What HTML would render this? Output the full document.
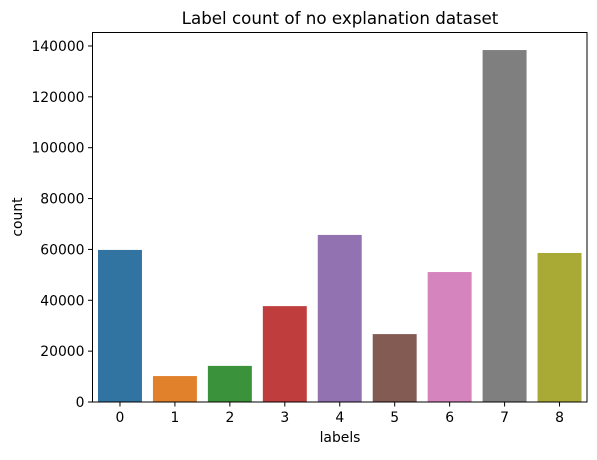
<!DOCTYPE html>
<html><head><meta charset="utf-8"><style>
body{margin:0;background:#fff;}
svg text{font-family:"DejaVu Sans","Liberation Sans",sans-serif;fill:#000;}
</style></head><body>
<svg id="chart" width="597" height="455">
<text x="340" y="24" font-size="16.7" text-anchor="middle">Label count of no explanation dataset</text>
<text x="340" y="442" font-size="13.9" text-anchor="middle">labels</text>
<text transform="translate(22,217) rotate(-90)" font-size="13.9" text-anchor="middle">count</text>
<g id="bars"></g><g id="ticks"></g>
<rect x="92.5" y="32.5" width="494.5" height="369.5" fill="none" stroke="#000" stroke-width="1"/>
</svg>
<script>
const categories=["0","1","2","3","4","5","6","7","8"];
const counts=[59800,10200,14200,37700,65700,26700,51100,138400,58600];
const yTicks=[0,20000,40000,60000,80000,100000,120000,140000];
const colors=["#3274a1","#e1812c","#3a923a","#c03d3e","#9372b2","#845b53","#d684bd","#7f7f7f","#a9aa35"];
const L=92.5,R=587,T=32.5,B=402,ymax=145300;
const band=(R-L)/categories.length;
const x=i=>L+band*(i+0.5);
const y=v=>B-(B-T)*v/ymax;
const NS="http://www.w3.org/2000/svg";
const bars=document.getElementById('bars'),ticks=document.getElementById('ticks');
counts.forEach((v,i)=>{
 const r=document.createElementNS(NS,'rect');
 r.setAttribute('x',x(i)-band*0.4);r.setAttribute('width',band*0.8);
 r.setAttribute('y',y(v));r.setAttribute('height',B-y(v));r.setAttribute('fill',colors[i]);
 
 
 bars.appendChild(r);
});
categories.forEach((c,i)=>{
 const l=document.createElementNS(NS,'line');
 l.setAttribute('x1',x(i));l.setAttribute('x2',x(i));l.setAttribute('y1',B);l.setAttribute('y2',B+4.5);l.setAttribute('stroke','#000');
 ticks.appendChild(l);
 const t=document.createElementNS(NS,'text');
 t.setAttribute('x',x(i));t.setAttribute('y',B+20);t.setAttribute('font-size','13.9');t.setAttribute('text-anchor','middle');
 t.textContent=c;
 
 
 ticks.appendChild(t);
});
yTicks.forEach(v=>{
 const l=document.createElementNS(NS,'line');
 l.setAttribute('x1',L-4.5);l.setAttribute('x2',L);l.setAttribute('y1',y(v));l.setAttribute('y2',y(v));l.setAttribute('stroke','#000');
 ticks.appendChild(l);
 const t=document.createElementNS(NS,'text');
 t.setAttribute('x',L-8);t.setAttribute('y',y(v)+5);t.setAttribute('font-size','13.9');t.setAttribute('text-anchor','end');
 t.textContent=v;
 
 
 ticks.appendChild(t);
});
</script>
</body></html>
